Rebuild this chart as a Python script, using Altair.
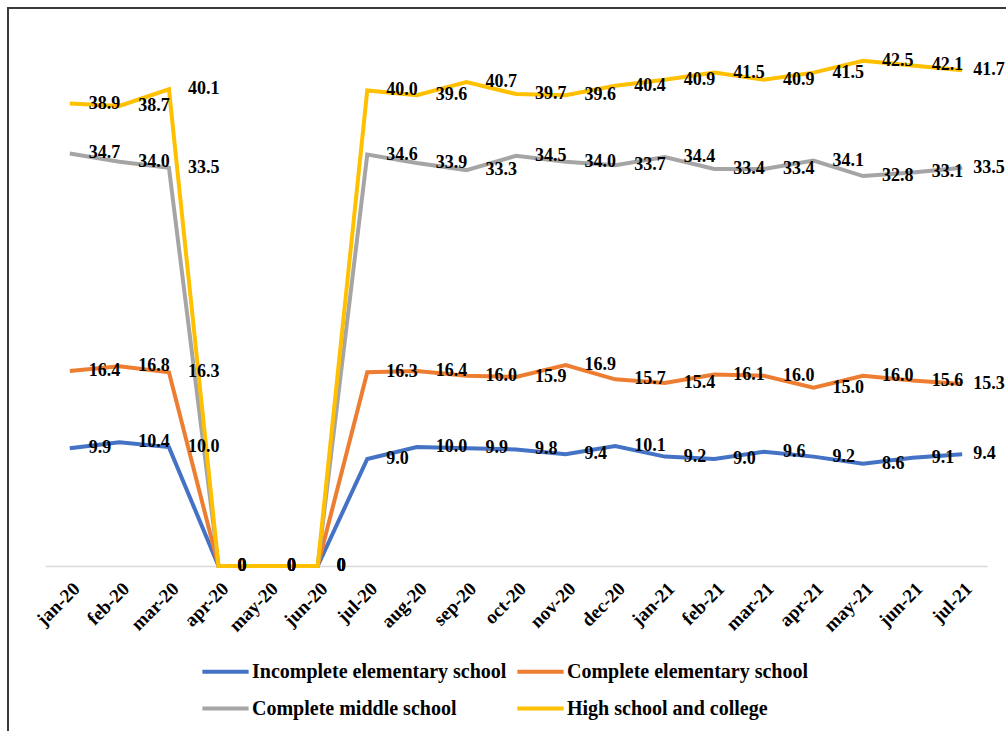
import altair as alt
import pandas as pd

months = ["jan-20", "feb-20", "mar-20", "apr-20", "may-20", "jun-20", "jul-20",
          "aug-20", "sep-20", "oct-20", "nov-20", "dec-20", "jan-21", "feb-21",
          "mar-21", "apr-21", "may-21", "jun-21", "jul-21"]

series_names = ["Incomplete elementary school", "Complete elementary school",
                "Complete middle school", "High school and college"]
series_colors = ["#4472C4", "#ED7D31", "#A5A5A5", "#FFC000"]

incomplete_elem = [9.9, 10.4, 10.0, 0, 0, 0, 9.0, 10.0, 9.9, 9.8, 9.4, 10.1,
                   9.2, 9.0, 9.6, 9.2, 8.6, 9.1, 9.4]
complete_elem = [16.4, 16.8, 16.3, 0, 0, 0, 16.3, 16.4, 16.0, 15.9, 16.9, 15.7,
                 15.4, 16.1, 16.0, 15.0, 16.0, 15.6, 15.3]
complete_middle = [34.7, 34.0, 33.5, 0, 0, 0, 34.6, 33.9, 33.3, 34.5, 34.0, 33.7,
                   34.4, 33.4, 33.4, 34.1, 32.8, 33.1, 33.5]
high_school = [38.9, 38.7, 40.1, 0, 0, 0, 40.0, 39.6, 40.7, 39.7, 39.6, 40.4,
               40.9, 41.5, 40.9, 41.5, 42.5, 42.1, 41.7]

all_series = [incomplete_elem, complete_elem, complete_middle, high_school]

rows = []
for order, (name, values) in enumerate(zip(series_names, all_series)):
    for month, v in zip(months, values):
        rows.append({
            "month": month,
            "group": name,
            "order": order,
            "value": v,
            "label": f"{v:.1f}" if v else "0",
        })
df = pd.DataFrame(rows)

SERIF = "Liberation Serif"

# legend fills column by column; this order gives the two-by-two layout
legend_order = [series_names[0], series_names[2], series_names[1], series_names[3]]
legend_colors = [series_colors[0], series_colors[2], series_colors[1], series_colors[3]]

x_scale = alt.Scale(type="point", padding=0.5)
y_scale = alt.Scale(domain=[0, 45], nice=False)

x_enc = alt.X("month:N", sort=months, scale=x_scale,
              axis=alt.Axis(title=None, labelAngle=-45, labelFont=SERIF,
                            labelFontWeight="bold", labelFontSize=19,
                            labelColor="black", labelPadding=13, ticks=False,
                            domainColor="#D9D9D9", domainWidth=1.5))
y_enc = alt.Y("value:Q", scale=y_scale, axis=None)

lines = alt.Chart(df).mark_line(strokeWidth=4).encode(
    x=x_enc,
    y=y_enc,
    color=alt.Color("group:N",
                    scale=alt.Scale(domain=legend_order, range=legend_colors),
                    legend=alt.Legend(orient="none", legendX=160, legendY=620,
                                      columns=2, title=None,
                                      symbolType="M-1.25,0H1.25",
                                      symbolSize=1369, symbolStrokeWidth=4,
                                      labelFont=SERIF, labelFontWeight="bold",
                                      labelFontSize=20, labelColor="black",
                                      labelOffset=6, columnPadding=2,
                                      rowPadding=6, labelLimit=0)),
    order=alt.Order("order:Q"),
    detail="order:Q",
)

text_style = dict(align="left", baseline="middle", font=SERIF,
                  fontWeight="bold", fontSize=18, color="black")

labels = alt.Chart(df).transform_filter(
    alt.datum.month != months[-1]
).mark_text(dx=19, **text_style).encode(
    x=alt.X("month:N", sort=months, scale=x_scale),
    y=alt.Y("value:Q", scale=y_scale),
    text="label:N",
)

# last column of labels sits closer to the line end
last_labels = alt.Chart(df).transform_filter(
    alt.datum.month == months[-1]
).mark_text(dx=11, **text_style).encode(
    x=alt.X("month:N", sort=months, scale=x_scale),
    y=alt.Y("value:Q", scale=y_scale),
    text="label:N",
)

# outer frame around the whole figure
frame = alt.Chart(pd.DataFrame({"k": [0]})).mark_rect(
    fill=None, stroke="#3A3A3A", strokeWidth=2
).encode(
    x=alt.value(-37), x2=alt.value(980),
    y=alt.value(-23), y2=alt.value(720),
)

chart = alt.layer(frame, lines, labels, last_labels).properties(
    width=942, height=535,
    autosize=alt.AutoSizeParams(type="none"),
    padding={"left": 45, "top": 31, "right": 19, "bottom": 165},
    background="white",
).configure_view(stroke=None)

chart.save("out.html", embed_options={"renderer": "svg", "actions": False})
